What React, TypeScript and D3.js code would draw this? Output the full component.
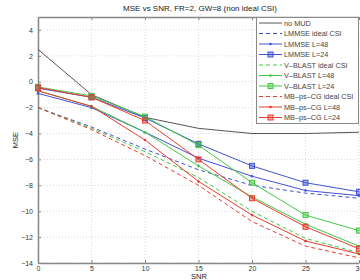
import React, { useEffect, useRef } from 'react'
import * as d3 from 'd3'

// SNR points on the x axis
const snr = [0, 5, 10, 15, 20, 25, 30]

// MSE values
const noMud = [2.5, -1.0, -2.75, -3.6, -4.0, -4.0, -3.9]
const lmmseIdeal = [-2.0, -3.5, -5.2, -6.8, -8.0, -8.6, -9.0]
const lmmse48 = [-0.9, -2.0, -3.9, -5.9, -7.3, -8.4, -8.8]
const lmmse24 = [-0.5, -1.2, -2.8, -4.8, -6.5, -7.8, -8.5]
const vblastIdeal = [-2.0, -3.6, -5.4, -7.4, -10.0, -12.1, -13.2]
const vblast48 = [-0.7, -1.9, -3.9, -6.5, -8.9, -11.0, -12.7]
const vblast24 = [-0.4, -1.1, -2.7, -4.9, -7.8, -10.3, -11.5]
const mbIdeal = [-2.0, -3.7, -5.7, -8.0, -10.8, -12.7, -13.6]
const mb48 = [-0.7, -1.9, -4.5, -7.7, -10.3, -12.3, -13.3]
const mb24 = [-0.45, -1.2, -3.0, -6.0, -9.0, -11.2, -12.9]

const seriesNames = [
  'no MUD',
  'LMMSE ideal CSI',
  'LMMSE L=48',
  'LMMSE L=24',
  'V\u2013BLAST ideal CSI',
  'V\u2013BLAST L=48',
  'V\u2013BLAST L=24',
  'MB\u2013ps\u2013CG ideal CSI',
  'MB\u2013ps\u2013CG L=48',
  'MB\u2013ps\u2013CG L=24',
]

const xTicks = [0, 5, 10, 15, 20, 25, 30]
const yTicks = [4, 2, 0, -2, -4, -6, -8, -10, -12, -14]

const BLUE = '#4152d4'
const GREEN = '#44c844'
const RED = '#ea3b2f'

const series = [
  { values: noMud, color: '#555', dash: null, marker: null },
  { values: lmmseIdeal, color: BLUE, dash: '4,3', marker: null },
  { values: lmmse48, color: BLUE, dash: null, marker: 'dot' },
  { values: lmmse24, color: BLUE, dash: null, marker: 'square' },
  { values: vblastIdeal, color: GREEN, dash: '4,3', marker: null },
  { values: vblast48, color: GREEN, dash: null, marker: 'dot' },
  { values: vblast24, color: GREEN, dash: null, marker: 'square' },
  { values: mbIdeal, color: RED, dash: '4,3', marker: null },
  { values: mb48, color: RED, dash: null, marker: 'dot' },
  { values: mb24, color: RED, dash: null, marker: 'square' },
]

const W = 360
const H = 280
const FONT = '"Liberation Sans", Arial, sans-serif'

export default function App() {
  const ref = useRef<SVGSVGElement>(null)

  useEffect(() => {
    const svg = d3.select(ref.current)
    svg.selectAll('*').remove()

    const left = 38, right = 359, top = 17, bottom = 263
    const x = d3.scaleLinear().domain([0, 30]).range([left, right])
    const y = d3.scaleLinear().domain([-14, 5]).range([bottom, top])

    // grid
    const grid = svg.append('g')
    xTicks.forEach(t => {
      grid.append('line')
        .attr('x1', x(t)).attr('x2', x(t)).attr('y1', top).attr('y2', bottom)
        .attr('stroke', '#d8d8d8').attr('stroke-dasharray', '1,2')
    })
    yTicks.forEach(t => {
      grid.append('line')
        .attr('x1', left).attr('x2', right).attr('y1', y(t)).attr('y2', y(t))
        .attr('stroke', '#d8d8d8').attr('stroke-dasharray', '1,2')
    })

    // axes, matlab style: ticks pointing inward
    const axisColor = '#888'
    const yAxis = svg.append('g')
      .attr('transform', `translate(${left},0)`)
      .call(d3.axisLeft(y).tickValues(yTicks).tickSizeInner(-3).tickSizeOuter(0).tickPadding(5))
    const xAxis = svg.append('g')
      .attr('transform', `translate(0,${bottom})`)
      .call(d3.axisBottom(x).tickValues(xTicks).tickSizeInner(-3).tickSizeOuter(0).tickPadding(3))
    svg.append('g')
      .attr('transform', `translate(0,${top})`)
      .call(d3.axisTop(x).tickValues(xTicks).tickSizeInner(-3).tickSizeOuter(0).tickFormat(() => ''))
    ;[yAxis, xAxis].forEach(a => {
      a.selectAll('.tick text')
        .attr('font-family', FONT).attr('font-size', 7).attr('fill', '#333')
        .text((d: any) => (d < 0 ? '\u2212' + Math.abs(d) : String(d)))
    })
    svg.selectAll('g path.domain').attr('stroke', axisColor).attr('stroke-width', 1.5)
    svg.selectAll('g .tick line').attr('stroke', axisColor)

    // lines
    const line = d3.line<number>()
      .x((_, i) => x(snr[i]))
      .y(d => y(d))

    series.forEach(s => {
      svg.append('path')
        .attr('d', line(s.values))
        .attr('fill', 'none')
        .attr('stroke', s.color)
        .attr('stroke-width', 1)
        .attr('stroke-dasharray', s.dash)
    })

    const drawMarker = (g: any, kind: string | null, cx: number, cy: number, color: string) => {
      if (kind === 'square') {
        g.append('rect')
          .attr('x', cx - 2.5).attr('y', cy - 2.5).attr('width', 5).attr('height', 5)
          .attr('fill', color).attr('fill-opacity', 0.45)
          .attr('stroke', color).attr('stroke-width', 1)
      } else if (kind === 'dot') {
        g.append('circle').attr('cx', cx).attr('cy', cy).attr('r', 1.3).attr('fill', color)
      }
    }

    series.forEach(s => {
      if (!s.marker) return
      const g = svg.append('g')
      s.values.forEach((v, i) => drawMarker(g, s.marker, x(snr[i]), y(v), s.color))
    })

    // legend
    const lg = svg.append('g')
    lg.append('rect')
      .attr('x', 256.5).attr('y', 17.5).attr('width', 102).attr('height', 106)
      .attr('fill', 'white').attr('stroke', '#888').attr('stroke-width', 1)
    series.forEach((s, i) => {
      const ly = 23 + i * 10.5
      lg.append('line')
        .attr('x1', 259).attr('x2', 282).attr('y1', ly).attr('y2', ly)
        .attr('stroke', s.color).attr('stroke-width', 1)
        .attr('stroke-dasharray', s.dash)
      drawMarker(lg, s.marker, 270.5, ly, s.color)
      lg.append('text')
        .attr('x', 284).attr('y', ly + 2.5)
        .attr('font-family', FONT).attr('font-size', 7.3).attr('fill', '#444')
        .text(seriesNames[i])
    })

    // titles
    svg.append('text')
      .attr('x', 200).attr('y', 11).attr('text-anchor', 'middle')
      .attr('font-family', FONT).attr('font-size', 8).attr('fill', '#222')
      .text('MSE vs SNR, FR=2, GW=8 (non ideal CSI)')
    svg.append('text')
      .attr('x', 199).attr('y', 278.5).attr('text-anchor', 'middle')
      .attr('font-family', FONT).attr('font-size', 7.5).attr('fill', '#222')
      .text('SNR')
    svg.append('text')
      .attr('transform', 'translate(18,140) rotate(-90)').attr('text-anchor', 'middle')
      .attr('font-family', FONT).attr('font-size', 7.5).attr('fill', '#222')
      .text('MSE')
  }, [])

  return (
    <svg ref={ref} width={W} height={H}
      style={{ position: 'absolute', left: 0, top: 0, background: 'white' }} />
  )
}
